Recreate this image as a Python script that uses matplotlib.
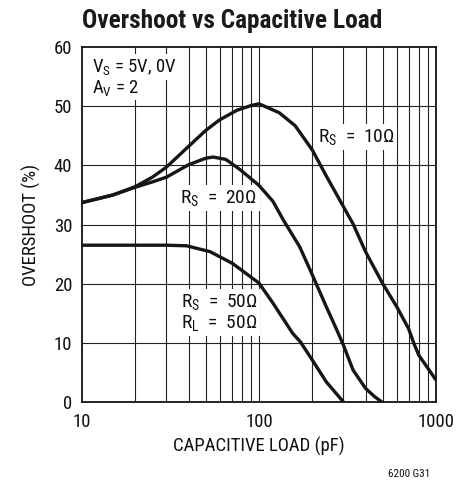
import matplotlib
matplotlib.use("Agg")
import matplotlib.pyplot as plt
from matplotlib import font_manager
from matplotlib.ticker import FixedLocator, NullLocator, FixedFormatter

# Prefer a condensed sans; fall back to ordinary sans families
installed = {f.name for f in font_manager.fontManager.ttflist}
candidates = ["Roboto Condensed", "Liberation Sans Narrow", "Open Sans Condensed",
              "Noto Sans Condensed", "Roboto", "Liberation Sans"]
main_font = next((c for c in candidates if c in installed), "DejaVu Sans")
FONT = [main_font, "DejaVu Sans"]
plt.rcParams["font.family"] = FONT
plt.rcParams["mathtext.fontset"] = "custom"
plt.rcParams["mathtext.rm"] = main_font
plt.rcParams["mathtext.it"] = main_font

# Overshoot (%) versus capacitive load (pF)
cap_rs10 = [10, 15, 20, 25, 30, 40, 50, 60, 75, 90, 100, 130, 160, 200, 240,
            290, 340, 400, 500, 600, 700, 750, 800, 900, 1000]
ovs_rs10 = [33.7, 35.0, 36.4, 38.0, 39.7, 43.2, 45.9, 47.7, 49.3, 50.1, 50.4,
            48.9, 46.7, 42.6, 38.2, 33.8, 30.1, 25.4, 20.0, 16.1, 12.4, 9.9,
            7.9, 5.7, 3.7]

cap_rs20 = [10, 15, 20, 25, 30, 40, 50, 55, 65, 78, 100, 120, 137, 170, 200,
            240, 275, 300, 340, 400, 450, 495]
ovs_rs20 = [33.7, 35.0, 36.3, 37.2, 38.0, 40.1, 41.2, 41.4, 41.0, 39.3, 36.6,
            33.9, 30.8, 26.2, 21.5, 16.1, 12.2, 9.6, 5.4, 2.3, 0.9, 0.0]

cap_rs50 = [10, 20, 30, 39, 53, 71, 100, 120, 155, 171, 200, 240, 300]
ovs_rs50 = [26.5, 26.5, 26.5, 26.4, 25.4, 23.4, 20.1, 16.7, 11.6, 10.2, 7.1,
            3.4, 0.0]

x_major = [10, 100, 1000]
x_major_labels = ["10", "100", "1000"]
x_grid = [20, 30, 40, 50, 60, 70, 80, 90, 200, 300, 400, 500, 600, 700, 800, 900]
y_ticks = [0, 10, 20, 30, 40, 50, 60]

W, H = 473, 487
fig = plt.figure(figsize=(W / 100, H / 100), dpi=100)
ax = fig.add_axes([82 / W, 1 - 402 / H, 354 / W, 355 / H])

ax.set_xscale("log")
ax.set_xlim(10, 1000)
ax.set_ylim(0, 60)

grid_kw = dict(color="#222222", lw=0.8, zorder=1)
for xv in x_grid + x_major[1:-1]:
    ax.axvline(xv, **grid_kw)
for yv in y_ticks[1:-1]:
    ax.axhline(yv, **grid_kw)

curve_kw = dict(color="#161616", lw=2.4, solid_capstyle="butt", zorder=3)
ax.plot(cap_rs10, ovs_rs10, **curve_kw)
ax.plot(cap_rs20, ovs_rs20, **curve_kw)
ax.plot(cap_rs50, ovs_rs50, **curve_kw)

ax.xaxis.set_major_locator(FixedLocator(x_major))
ax.xaxis.set_major_formatter(FixedFormatter(x_major_labels))
ax.xaxis.set_minor_locator(NullLocator())
ax.set_yticks(y_ticks)
ax.tick_params(axis="both", which="both", length=0, labelsize=13.5,
               colors="#111111")
ax.tick_params(axis="y", pad=7)
ax.tick_params(axis="x", pad=8)

for sp in ax.spines.values():
    sp.set_linewidth(1.3)
    sp.set_color("#111111")
    sp.set_zorder(4)

ax.set_xlabel("CAPACITIVE LOAD (pF)", fontsize=13.5, labelpad=4, color="#111111")
ax.set_ylabel("OVERSHOOT (%)", fontsize=13.5, labelpad=9, color="#111111")

box = dict(boxstyle="square,pad=0.15", fc="white", ec="none")
lab_kw = dict(color="#111111", ha="left", va="baseline", zorder=2)
ax.text(11.4, 55.8, r"V$_\mathrm{S}$ = 5V, 0V", fontsize=13.5, bbox=box, **lab_kw)
ax.text(11.4, 52.3, r"A$_\mathrm{V}$ = 2", fontsize=13.5, bbox=box, **lab_kw)
ax.text(215, 44.0, r"R$_\mathrm{S}$  =  10Ω", fontsize=14, bbox=box, **lab_kw)
ax.text(35.8, 33.6, r"R$_\mathrm{S}$  =  20Ω", fontsize=14, bbox=box, **lab_kw)
ax.text(36.1, 16.1, r"R$_\mathrm{S}$  =  50Ω", fontsize=14, bbox=box, **lab_kw)
ax.text(36.1, 12.5, r"R$_\mathrm{L}$  =  50Ω", fontsize=14, bbox=box, **lab_kw)

fig.text(82 / W, 1 - 28 / H, "Overshoot vs Capacitive Load", fontsize=18.3,
         fontweight="bold", ha="left", va="baseline", color="#1a1a1a")
fig.text(430 / W, 1 - 477 / H, "6200 G31", fontsize=8, ha="right",
         va="baseline", color="#111111")

fig.savefig("out.png", dpi=100, facecolor="white")
